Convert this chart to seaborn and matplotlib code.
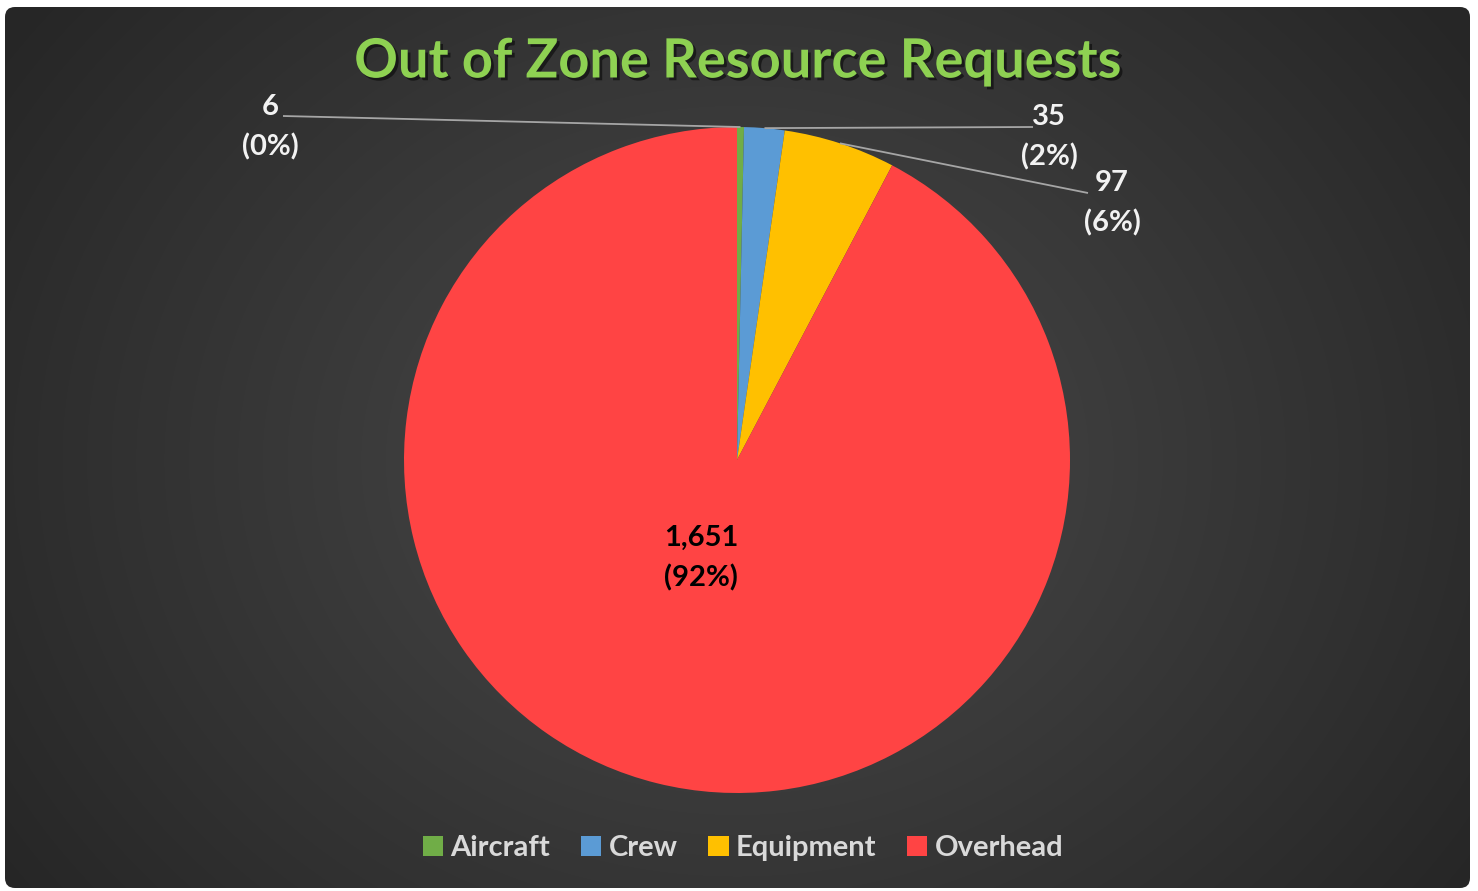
import matplotlib
matplotlib.use('Agg')
import matplotlib.pyplot as plt
import matplotlib.patheffects as pe
from matplotlib.patches import FancyBboxPatch, Patch
import numpy as np
import seaborn as sns

sns.set_theme(style='white')
plt.rcParams['font.family'] = ['Lato', 'DejaVu Sans']

CATEGORIES = ['Aircraft', 'Crew', 'Equipment', 'Overhead']
REQUESTS = [6, 35, 97, 1651]
PERCENTS = [0, 2, 6, 92]  # as printed on the chart
COLORS = ['#70AD47', '#5B9BD5', '#FFC000', '#FF4444']
TITLE = 'Out of Zone Resource Requests'

W, H = 1478, 891
fig = plt.figure(figsize=(W / 100, H / 100), dpi=100)
fig.patch.set_facecolor('white')

# background panel with radial gradient and rounded corners
bg = fig.add_axes([0, 0, 1, 1])
bg.set_xlim(0, W)
bg.set_ylim(H, 0)
bg.axis('off')
yy, xx = np.mgrid[0:H, 0:W]
dist = np.sqrt((xx - 737) ** 2 + ((yy - 460) * 1.2) ** 2) / 900
grad = np.clip(dist, 0, 1)
cmap = matplotlib.colors.LinearSegmentedColormap.from_list('bg', ['#4a4a4a', '#262626'])
img = bg.imshow(grad, cmap=cmap, extent=(0, W, H, 0), aspect='auto', zorder=0)
panel = FancyBboxPatch((5, 7), 1465, 881, boxstyle='round,pad=0,rounding_size=10',
                       transform=bg.transData, facecolor='none', edgecolor='none')
bg.add_patch(panel)
img.set_clip_path(panel)

# pie axes: centre (737, 460), radius 333 px
cx, cy, R = 737, 460, 333
ax = fig.add_axes([(cx - R) / W, (H - cy - R) / H, 2 * R / W, 2 * R / H])
wedges, _ = ax.pie(REQUESTS, colors=COLORS, startangle=90, counterclock=False,
                   radius=1, wedgeprops=dict(linewidth=0))
ax.set_xlim(-1, 1)
ax.set_ylim(-1, 1)
ax.axis('off')

labels = [f'{v:,}\n({p}%)' for v, p in zip(REQUESTS, PERCENTS)]

def px(x, y):
    return ((x - cx) / R, (cy - y) / R)

lbl_font = dict(fontsize=21, fontweight='bold', ha='center', va='center', linespacing=1.6)
# outside labels with leader lines: (text pos, line start)
outside = {0: ((270, 127), (283, 116)), 1: ((1049, 137), (1033, 127)), 2: ((1112, 203), (1088, 193))}
for i, w in enumerate(wedges):
    mid = np.deg2rad((w.theta1 + w.theta2) / 2)
    edge = (np.cos(mid), np.sin(mid))
    if i in outside:
        tpos, lpos = outside[i]
        ax.plot([px(*lpos)[0], edge[0]], [px(*lpos)[1], edge[1]], color='#a6a6a6',
                linewidth=1.3, clip_on=False, solid_capstyle='butt')
        ax.text(*px(*tpos), labels[i], color='#f2f2f2', clip_on=False, **lbl_font)
    else:
        ax.text(*px(701, 558), labels[i], color='black', **lbl_font)

fig.text(737 / W, (H - 62) / H, TITLE, color='#8ED152', fontsize=39, fontweight='bold',
         ha='center', va='center',
         path_effects=[pe.withSimplePatchShadow(offset=(2, -2), shadow_rgbFace='black', alpha=0.5)])

handles = [Patch(facecolor=c, edgecolor='none') for c in COLORS]
leg = fig.legend(handles, CATEGORIES, loc='center', bbox_to_anchor=(743 / W, (H - 848) / H),
                 ncol=4, frameon=False, fontsize=21, handlelength=0.7, handleheight=0.7,
                 handletextpad=0.25, columnspacing=1.05)
for t in leg.get_texts():
    t.set_color('#d9d9d9')
    t.set_fontweight('bold')

fig.savefig('out.png', dpi=100, facecolor='white')
